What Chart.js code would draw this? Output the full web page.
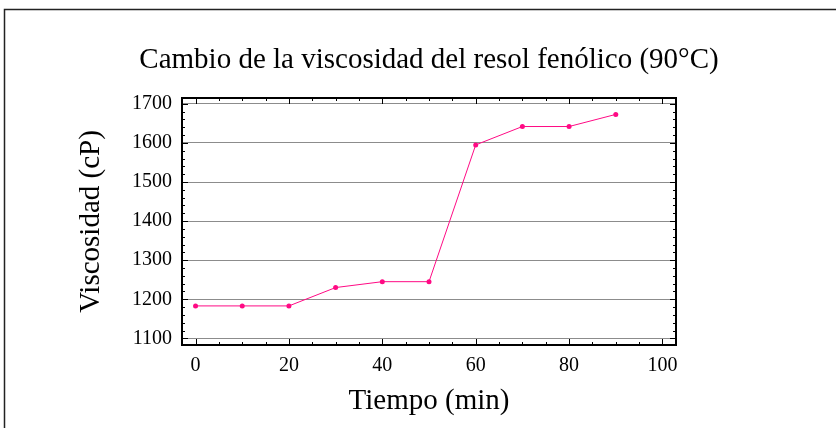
<!DOCTYPE html>
<html>
<head>
<meta charset="utf-8">
<script src="https://cdnjs.cloudflare.com/ajax/libs/Chart.js/4.4.1/chart.umd.min.js"></script>
<style>
  html, body { margin: 0; padding: 0; background: #fff; }
  #wrap { position: relative; width: 836px; height: 428px; }
</style>
</head>
<body>
<div id="wrap"><canvas id="chart" width="836" height="428"></canvas></div>
<script>
// data
const tiempo = [0, 10, 20, 30, 40, 50, 60, 70, 80, 90];
const viscosidad = [1183, 1183, 1183, 1230, 1245, 1245, 1595, 1642, 1642, 1673];
const xTicks = [0, 20, 40, 60, 80, 100];
const yTicks = [1100, 1200, 1300, 1400, 1500, 1600, 1700];
const titulo = 'Cambio de la viscosidad del resol fenólico (90°C)';

const SERIF = '"Liberation Serif", "Times New Roman", serif';
const PINK = '#ff0a84';

// outer frame, title centred over the plot box, inward tick marks on all four sides
const framePlugin = {
  id: 'frame',
  beforeDraw(chart) {
    const ctx = chart.ctx;
    ctx.save();
    ctx.strokeStyle = '#222';
    ctx.lineWidth = 1.5;
    ctx.beginPath();
    ctx.moveTo(4.5, 428);
    ctx.lineTo(4.5, 9.5);
    ctx.lineTo(836, 9.5);
    ctx.stroke();
    ctx.restore();
  },
  afterDatasetsDraw(chart) {
    const { ctx, chartArea: a, scales: { x, y } } = chart;
    ctx.save();
    ctx.strokeStyle = '#000';
    ctx.lineWidth = 1;
    ctx.beginPath();
    for (let v = 0; v <= 100; v += 5) {
      const px = Math.round(x.getPixelForValue(v)) + 0.5;
      const len = v % 20 === 0 ? 6 : 3;
      ctx.moveTo(px, a.bottom); ctx.lineTo(px, a.bottom - len);
      ctx.moveTo(px, a.top); ctx.lineTo(px, a.top + len);
    }
    for (let v = 1100; v <= 1700; v += 20) {
      const py = Math.round(y.getPixelForValue(v)) + 0.5;
      const len = v % 100 === 0 ? 6 : 3;
      ctx.moveTo(a.left, py); ctx.lineTo(a.left + len, py);
      ctx.moveTo(a.right, py); ctx.lineTo(a.right - len, py);
    }
    ctx.stroke();
    ctx.lineWidth = 2;
    ctx.strokeRect(a.left, a.top, a.right - a.left, a.bottom - a.top);

    ctx.fillStyle = '#000';
    ctx.font = '29px ' + SERIF;
    ctx.textAlign = 'center';
    ctx.textBaseline = 'middle';
    ctx.fillText(titulo, (a.left + a.right) / 2, 60);
    ctx.restore();
  }
};

new Chart(document.getElementById('chart').getContext('2d'), {
  type: 'line',
  data: {
    datasets: [{
      data: tiempo.map((t, i) => ({ x: t, y: viscosidad[i] })),
      borderColor: PINK,
      backgroundColor: PINK,
      borderWidth: 1,
      pointRadius: 2.5,
      pointBorderWidth: 0,
      tension: 0,
      fill: false,
    }]
  },
  options: {
    responsive: false,
    animation: false,
    layout: { padding: { left: 0, top: 98, right: 160, bottom: 0 } },
    plugins: {
      legend: { display: false },
      tooltip: { enabled: false },
      title: { display: false },
    },
    scales: {
      x: {
        type: 'linear',
        min: -2.9,
        max: 102.9,
        afterBuildTicks: s => { s.ticks = xTicks.map(v => ({ value: v })); },
        afterFit: s => { s.height = 83; },
        grid: { display: false, drawTicks: false },
        border: { display: false },
        ticks: { color: '#000', padding: 9, font: { family: SERIF, size: 20 }, callback: v => String(v) },
        title: {
          display: true,
          text: 'Tiempo (min)',
          color: '#000',
          font: { family: SERIF, size: 29 },
          padding: { bottom: 9.6 },
        },
      },
      y: {
        min: 1083,
        max: 1715,
        afterBuildTicks: s => { s.ticks = yTicks.map(v => ({ value: v })); },
        afterFit: s => { s.width = 182; },
        grid: { color: '#8c8c8c', lineWidth: 1, drawTicks: false },
        border: { display: false },
        ticks: { color: '#000', padding: 10, font: { family: SERIF, size: 20 }, callback: v => String(v) },
        title: {
          display: true,
          text: 'Viscosidad (cP)',
          color: '#000',
          font: { family: SERIF, size: 29 },
          padding: { top: 74 },
        },
      },
    },
  },
  plugins: [framePlugin],
});
</script>
</body>
</html>
